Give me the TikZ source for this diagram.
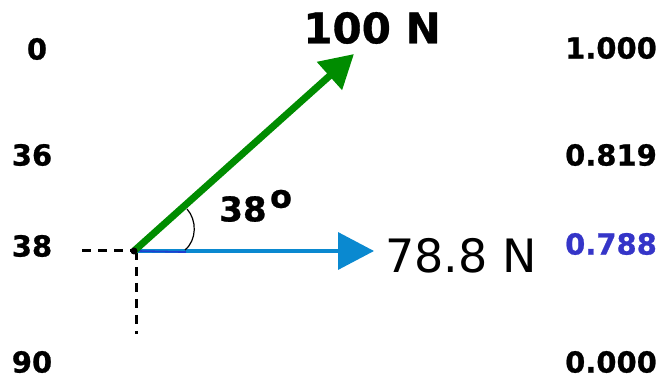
\documentclass[tikz,border=0pt]{standalone}
\usepackage{fontspec}
\setmainfont{DejaVu Sans}
\newfontfamily\heavy{DejaVu Sans Bold}[FakeBold=0.8]
\usetikzlibrary{arrows.meta}
\definecolor{vgreen}{HTML}{008C00}
\definecolor{vblue}{HTML}{0A89D0}
\definecolor{dblue}{HTML}{1F3FD0}
\definecolor{lblue}{HTML}{3535C8}
\tikzset{
  lbl/.style={inner sep=0pt, font=\heavy\fontsize{29}{31}\selectfont},
  dline/.style={line width=3pt, dash pattern=on 9pt off 7pt},
}
\begin{document}
\begin{tikzpicture}[x=1pt,y=-1pt]
\useasboundingbox (0,0) rectangle (664,379);
% left angle labels
\node[lbl] (a0) at (37,49) {0};
\node[lbl] (a36) at (32,155) {36};
\node[lbl] (a38) at (32,246) {38};
\node[lbl] (a90) at (32,362) {90};
% right cosine labels
\node[lbl] (c0) at (611,48) {1.000};
\node[lbl] (c36) at (611,155) {0.819};
\node[lbl, text=lblue] (c38) at (611,244) {0.788};
\node[lbl] (c90) at (611,362) {0.000};
% geometry
\coordinate (O) at (134,251);
\coordinate (gtip) at (354,54);
\coordinate (btip) at (374,251);
\coordinate (hl) at (82,251);
\coordinate (vt) at (136,251);
\coordinate (vb) at (136,334);
\coordinate (dbe) at (186,252);
\draw[dline] (hl) -- (O);
\draw[dline] (vt) -- (vb);
\draw[vblue, line width=3.5pt, -{Triangle[length=36pt,width=37pt]}] (O) -- (btip);
\draw[dblue, line width=1.8pt] (O) -- (dbe);
\draw[vgreen, line width=7pt, -{Triangle[length=33pt,width=36pt]}] (O) -- (gtip);
\fill (O) circle (3.5pt);
\coordinate (arcA) at (185,250);
\coordinate (arcB) at (187,209);
\draw[line width=1.2pt] (arcA) .. controls (197,240) and (197,220) .. (arcB);
% labels
\node[inner sep=0pt, font=\heavy\fontsize{42}{44}\selectfont] (F) at (372,28) {100 N};
\node[inner sep=0pt, font=\heavy\fontsize{34}{36}\selectfont] (ang) at (243,209) {38};
\node[inner sep=0pt, font=\heavy\fontsize{32}{34}\selectfont] (deg) at (281,199) {o};
\node[inner sep=0pt, font=\fontsize{46}{48}\selectfont] (Fx) at (461,256) {78.8 N};
\end{tikzpicture}
\end{document}
